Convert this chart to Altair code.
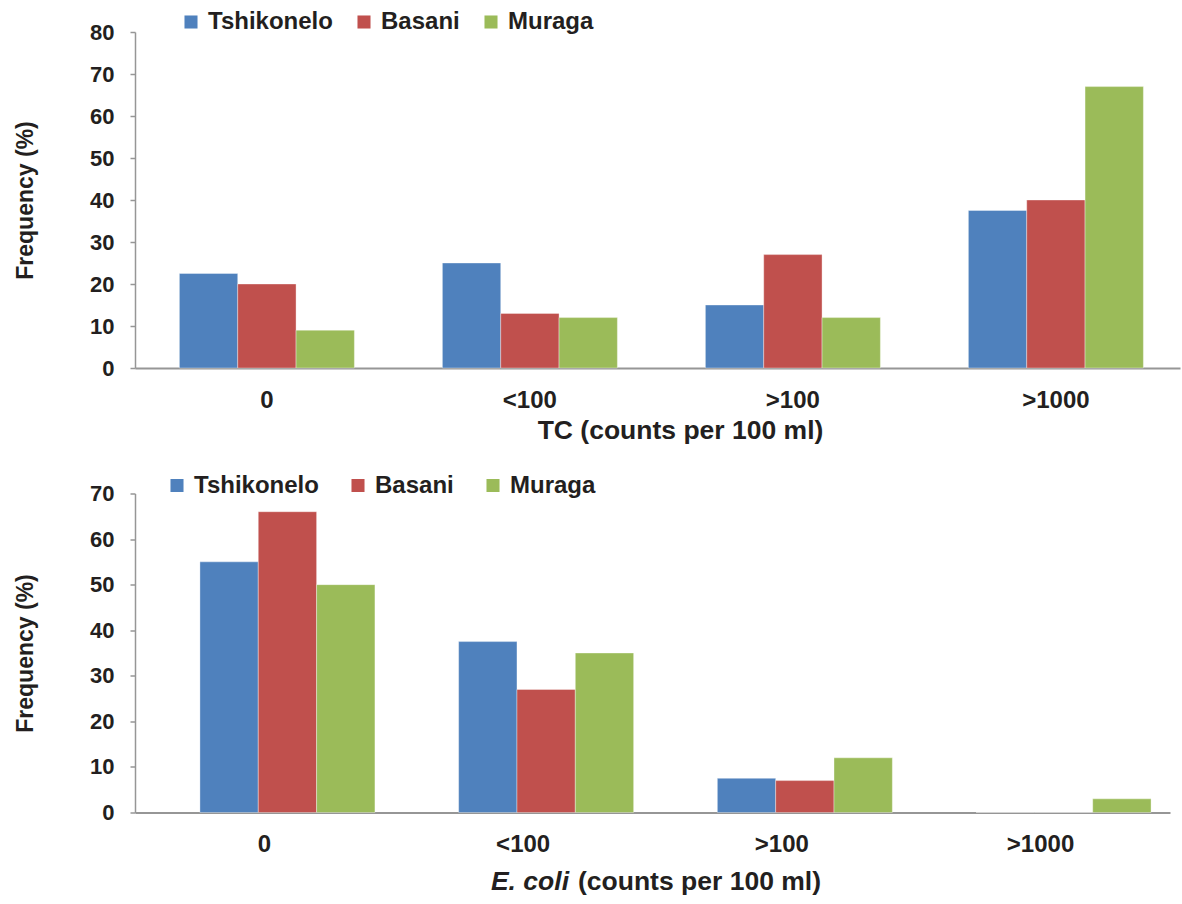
import altair as alt
import pandas as pd

# Sampling sites and the count classes on the x axis
sites = ["Tshikonelo", "Basani", "Muraga"]
site_colors = ["#4F81BD", "#C0504D", "#9BBB59"]
classes = ["0", "<100", ">100", ">1000"]

# Frequency (%) of samples per class: total coliforms
tc_tshikonelo = [22.5, 25, 15, 37.5]
tc_basani = [20, 13, 27, 40]
tc_muraga = [9, 12, 12, 67]

# Frequency (%) of samples per class: E. coli
ec_tshikonelo = [55, 37.5, 7.5, 0]
ec_basani = [66, 27, 7, 0]
ec_muraga = [50, 35, 12, 3]

FONT = "Liberation Sans"
TEXT = "#231F20"
AXIS_GRAY = "#969696"


def long_table(series):
    rows = []
    for site, vals in zip(sites, series):
        for cls, v in zip(classes, vals):
            rows.append({"cls": cls, "site": site, "value": v})
    return pd.DataFrame(rows)


def panel(df, ymax, width, height, xscale, xaxis_title, legend_x, legend_y, legend_gap):
    return alt.Chart(df).mark_bar(stroke="white", strokeWidth=0.6, strokeOpacity=0.6).encode(
        x=alt.X(
            "cls:N",
            sort=classes,
            scale=xscale,
            axis=alt.Axis(
                labelAngle=0,
                labelFont=FONT,
                labelFontSize=24,
                labelFontWeight="bold",
                labelColor=TEXT,
                labelPadding=20,
                ticks=False,
                domainColor=AXIS_GRAY,
                domainWidth=2,
                titleFont=FONT,
                titleFontSize=26.5,
                titleFontWeight="bold",
                titleColor=TEXT,
                titlePadding=5,
                **xaxis_title,
            ),
        ),
        xOffset=alt.XOffset("site:N", sort=sites, scale=alt.Scale(paddingInner=0, paddingOuter=0)),
        y=alt.Y(
            "value:Q",
            scale=alt.Scale(domain=[0, ymax], nice=False),
            axis=alt.Axis(
                title="Frequency (%)",
                values=list(range(0, ymax + 1, 10)),
                grid=False,
                labelFont=FONT,
                labelFontSize=22,
                labelFontWeight="bold",
                labelColor=TEXT,
                labelPadding=16,
                tickSize=5,
                tickColor=AXIS_GRAY,
                tickWidth=1.5,
                domainColor=AXIS_GRAY,
                domainWidth=1.5,
                titleFont=FONT,
                titleFontSize=23,
                titleFontWeight="bold",
                titleColor=TEXT,
                titlePadding=52,
            ),
        ),
        color=alt.Color(
            "site:N",
            sort=sites,
            scale=alt.Scale(domain=sites, range=site_colors),
            legend=alt.Legend(
                title=None,
                orient="none",
                direction="horizontal",
                legendX=legend_x,
                legendY=legend_y,
                symbolType="square",
                symbolSize=170,
                symbolStrokeWidth=0,
                labelFont=FONT,
                labelFontSize=24,
                labelFontWeight="bold",
                labelColor=TEXT,
                labelOffset=5,
                columnPadding=legend_gap,
            ),
        ),
    ).properties(width=width, height=height)


top = panel(
    long_table([tc_tshikonelo, tc_basani, tc_muraga]),
    80, 1045, 336,
    alt.Scale(paddingInner=0.3346, paddingOuter=0.154, align=0.548),
    {"title": "TC (counts per 100 ml)", "titleX": 545, "titleAlign": "center"},
    44, -22, 19,
)

# Bottom panel: x title is drawn as text so "E. coli" can be italic
bottom_bars = panel(
    long_table([ec_tshikonelo, ec_basani, ec_muraga]),
    70, 1035, 319,
    alt.Scale(paddingInner=0.5013, paddingOuter=0.251),
    {"title": None},
    30, -20, 27,
)
title_italic = alt.Chart(pd.DataFrame({"t": ["E. coli"]})).mark_text(
    font=FONT, fontSize=26.5, fontWeight="bold", fontStyle="italic", color=TEXT,
    align="right", baseline="alphabetic",
).encode(x=alt.value(434), y=alt.value(396), text="t:N")
title_plain = alt.Chart(pd.DataFrame({"t": ["(counts per 100 ml)"]})).mark_text(
    font=FONT, fontSize=26.5, fontWeight="bold", color=TEXT,
    align="left", baseline="alphabetic",
).encode(x=alt.value(443), y=alt.value(396), text="t:N")
bottom = alt.layer(bottom_bars, title_italic, title_plain)

chart = alt.vconcat(top, bottom, spacing=29.5).resolve_legend(
    color="independent"
).properties(
    padding={"left": 14, "top": 10, "right": 2, "bottom": 5},
    background="white",
).configure_view(stroke=None)

chart.save("out.html", embed_options={"renderer": "svg", "actions": False})
